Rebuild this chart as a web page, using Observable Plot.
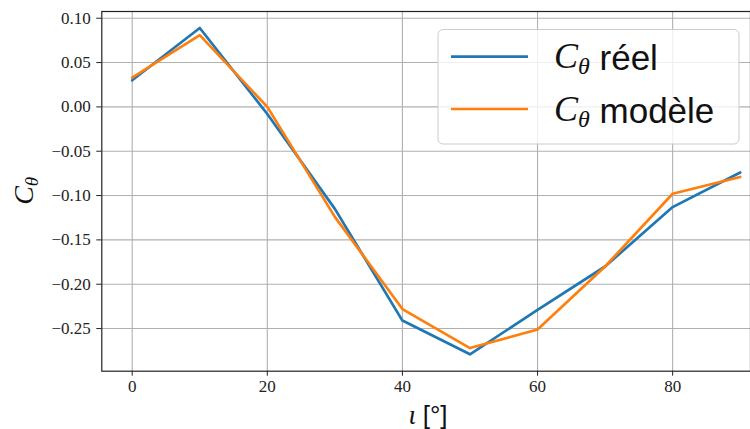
<!DOCTYPE html>
<html>
<head>
<meta charset="utf-8">
<script src="https://cdn.jsdelivr.net/npm/d3@7"></script>
<script src="https://cdn.jsdelivr.net/npm/@observablehq/plot@0.6"></script>
<style>
  html, body { margin: 0; padding: 0; background: white; overflow: hidden; }
  #chart { position: relative; width: 750px; height: 429px; }
</style>
</head>
<body>
<div id="chart"></div>
<script>
// Data
const incidence = [0, 10, 20, 30, 40, 50, 60, 70, 80, 90];
const cThetaReel = [0.030, 0.089, -0.008, -0.115, -0.241, -0.279, -0.229, -0.180, -0.113, -0.074];
const cThetaModele = [0.033, 0.081, 0.000, -0.124, -0.228, -0.272, -0.251, -0.180, -0.098, -0.079];
const xTicks = [0, 20, 40, 60, 80];
const yTicks = [-0.25, -0.20, -0.15, -0.10, -0.05, 0.00, 0.05, 0.10];
const seriesNames = ["réel", "modèle"];
const seriesColors = ["#1f77b4", "#ff7f0e"];

(function () {
const reel = incidence.map((x, i) => ({x, y: cThetaReel[i]}));
const modele = incidence.map((x, i) => ({x, y: cThetaModele[i]}));

const W = 750, H = 429;
const mLeft = 101.3, mTop = 11, mBottom = 370.7;
const xLo = -4.5, xHi = 94.5;
const pxPerUnit = (131.7 - mLeft) / (0 - xLo);
const mRight = mLeft + (xHi - xLo) * pxPerUnit;

const serif = "Liberation Serif, DejaVu Serif, serif";
const sans = "Liberation Sans, Arial, sans-serif";

const plot = Plot.plot({
  width: W,
  height: H,
  marginLeft: mLeft,
  marginTop: mTop,
  marginBottom: H - mBottom,
  marginRight: 0,
  style: {background: "white", overflow: "hidden"},
  x: {domain: [xLo, xHi], range: [mLeft, mRight]},
  y: {domain: [-0.2981, 0.1076]},
  marks: [
    Plot.gridX(xTicks, {stroke: "#b0b0b0", strokeOpacity: 1, strokeWidth: 1.1}),
    Plot.gridY(yTicks, {stroke: "#b0b0b0", strokeOpacity: 1, strokeWidth: 1.1}),
    Plot.line(reel, {x: "x", y: "y", stroke: seriesColors[0], strokeWidth: 2.7}),
    Plot.line(modele, {x: "x", y: "y", stroke: seriesColors[1], strokeWidth: 2.7}),
    Plot.frame({stroke: "#222", strokeWidth: 1.2}),
    Plot.axisX(xTicks, {tickSize: 5, tickPadding: 4, tickFormat: d => String(d), fontSize: 17, fill: "#222", stroke: "#222", label: null}),
    Plot.axisY(yTicks, {tickSize: 5, tickPadding: 6, tickFormat: d3.format(".2f"), fontSize: 17, fill: "#222", stroke: "#222", label: null})
  ]
});

document.getElementById("chart").appendChild(plot);

const svg = d3.select(plot);
svg.selectAll("text").style("font-family", serif);

// Y axis label: C_theta
const yl = svg.append("text")
  .attr("transform", `translate(33,${(mTop + mBottom) / 2}) rotate(-90)`)
  .attr("text-anchor", "middle")
  .attr("fill", "#111");
yl.append("tspan").style("font-family", serif).attr("font-style", "italic").attr("font-size", 28).text("C");
yl.append("tspan").style("font-family", serif).attr("font-style", "italic").attr("font-size", 19).attr("dy", "0.25em").text("θ");

// X axis label: iota [°]
const xl = svg.append("text")
  .attr("x", 428).attr("y", 424)
  .attr("text-anchor", "middle")
  .attr("fill", "#111");
xl.append("tspan").style("font-family", serif).attr("font-style", "italic").attr("font-size", 27).text("ι ");
xl.append("tspan").style("font-family", sans).attr("font-size", 26).text("[°]");

// Legend
const lg = svg.append("g").attr("text-anchor", "start");
lg.append("rect")
  .attr("x", 438).attr("y", 29.5).attr("width", 301).attr("height", 114.5)
  .attr("rx", 5).attr("ry", 5)
  .attr("fill", "white").attr("fill-opacity", 0.8)
  .attr("stroke", "#cccccc").attr("stroke-width", 1);
const rowsY = [56.7, 109];
seriesNames.forEach((name, i) => {
  lg.append("line")
    .attr("x1", 451).attr("x2", 528)
    .attr("y1", rowsY[i]).attr("y2", rowsY[i])
    .attr("stroke", seriesColors[i]).attr("stroke-width", 2.7);
  const t = lg.append("text")
    .attr("x", 554).attr("y", rowsY[i] + 11.5)
    .attr("text-anchor", "start")
    .attr("fill", "#111");
  t.append("tspan").style("font-family", serif).attr("font-style", "italic").attr("font-size", 36).text("C");
  t.append("tspan").style("font-family", serif).attr("font-style", "italic").attr("font-size", 24).attr("dy", 6).text("θ");
  t.append("tspan").style("font-family", sans).attr("font-size", 35).attr("dy", -4).text(" " + name);
});
})();
</script>
</body>
</html>
